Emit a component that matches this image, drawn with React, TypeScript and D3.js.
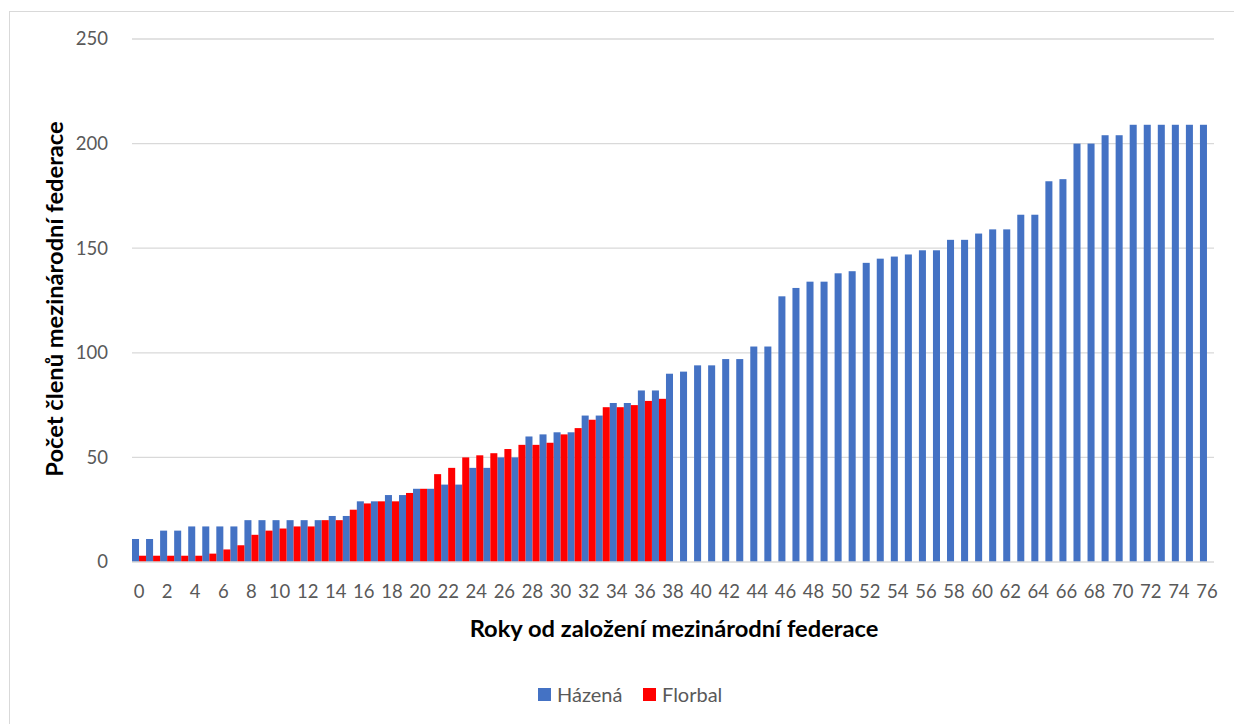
import React, { useEffect, useRef } from 'react';
import * as d3 from 'd3';

const years = d3.range(0, 77);
const hazena = [
    11, 11, 15, 15, 17, 17, 17, 17, 20, 20,
    20, 20, 20, 20, 22, 22, 29, 29, 32, 32,
    35, 35, 37, 37, 45, 45, 50, 50, 60, 61,
    62, 62, 70, 70, 76, 76, 82, 82, 90, 91,
    94, 94, 97, 97, 103, 103, 127, 131, 134, 134,
    138, 139, 143, 145, 146, 147, 149, 149, 154, 154,
    157, 159, 159, 166, 166, 182, 183, 200, 200, 204,
    204, 209, 209, 209, 209, 209, 209,
];
const florbal = [
    3, 3, 3, 3, 3, 4, 6, 8, 13, 15,
    16, 17, 17, 20, 20, 25, 28, 29, 29, 33,
    35, 42, 45, 50, 51, 52, 54, 56, 56, 57,
    61, 64, 68, 74, 74, 75, 77, 78,
];
const yTicks = [0, 50, 100, 150, 200, 250];
const seriesNames = ['Házená', 'Florbal'];
const colors = ['#4472C4', '#FF0000'];

export default function App() {
    const ref = useRef<SVGSVGElement | null>(null);
    useEffect(() => {
        const svg = d3.select(ref.current);
        svg.selectAll('*').remove();
        const width = 1234, height = 724;
        const margin = { top: 39, right: 20, bottom: 162, left: 132 };
        const font = 'Lato, "Open Sans", sans-serif';

        svg.attr('viewBox', `0 0 ${width} ${height}`);
        svg.append('rect')
            .attr('x', 9.5).attr('y', 11.5).attr('width', 1240).attr('height', 730)
            .attr('fill', '#fff').attr('stroke', '#d9d9d9');

        const x = d3.scaleBand<number>().domain(years).range([margin.left, 1214]).padding(0);
        const inner = d3.scaleBand<number>().domain([0, 1]).range([0, x.bandwidth()]);
        const y = d3.scaleLinear().domain([0, 250]).range([562, margin.top]);

        // grid
        svg.append('g').selectAll('line').data(yTicks.slice(1)).join('line')
            .attr('x1', margin.left).attr('x2', 1214)
            .attr('y1', d => y(d)).attr('y2', d => y(d))
            .attr('stroke', '#d9d9d9').attr('stroke-width', 1.3);

        const series = [hazena, florbal];
        series.forEach((vals, s) => {
            svg.append('g').selectAll('rect').data(vals).join('rect')
                .attr('x', (d, i) => (x(i) as number) + (inner(s) as number))
                .attr('y', d => y(d))
                .attr('width', inner.bandwidth())
                .attr('height', d => y(0) - y(d))
                .attr('fill', colors[s]);
        });

        // baseline
        svg.append('line')
            .attr('x1', margin.left).attr('x2', 1214)
            .attr('y1', y(0)).attr('y2', y(0))
            .attr('stroke', '#d9d9d9').attr('stroke-width', 1.3);

        // y tick labels
        svg.append('g').selectAll('text').data(yTicks).join('text')
            .attr('x', 108).attr('y', d => y(d))
            .attr('dy', '0.35em')
            .attr('text-anchor', 'end')
            .attr('font-family', font).attr('font-size', 18.5).attr('fill', '#595959')
            .text(d => d);

        // x tick labels
        svg.append('g').selectAll('text').data(years.filter(d => d % 2 === 0)).join('text')
            .attr('x', d => (x(d) as number) + x.bandwidth() / 2)
            .attr('y', 598)
            .attr('text-anchor', 'middle')
            .attr('font-family', font).attr('font-size', 18.5).attr('fill', '#595959')
            .text(d => d);

        // axis titles
        svg.append('text')
            .attr('x', 674).attr('y', 637)
            .attr('text-anchor', 'middle')
            .attr('font-family', font).attr('font-size', 23.7).attr('font-weight', 'bold').attr('fill', '#000')
            .text('Roky od založení mezinárodní federace');
        svg.append('text')
            .attr('transform', `translate(63,299) rotate(-90)`)
            .attr('text-anchor', 'middle')
            .attr('font-family', font).attr('font-size', 23.7).attr('font-weight', 'bold').attr('fill', '#000')
            .text('Počet členů mezinárodní federace');

        // legend
        const legendX = [538, 643];
        seriesNames.forEach((name, s) => {
            const g = svg.append('g').attr('transform', `translate(${legendX[s]},688)`);
            g.append('rect').attr('width', 13).attr('height', 13).attr('fill', colors[s]);
            g.append('text')
                .attr('x', 19).attr('y', 6.5).attr('dy', '0.35em')
                .attr('font-family', font).attr('font-size', 20).attr('fill', '#595959')
                .text(name);
        });
    }, []);
    return <svg ref={ref} width={1234} height={724} style={{ position: 'absolute', left: 0, top: 0 }} />;
}
